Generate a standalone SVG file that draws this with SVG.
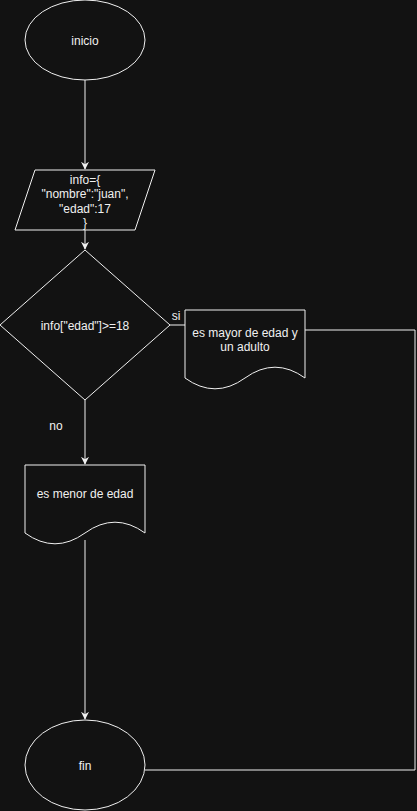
<svg xmlns="http://www.w3.org/2000/svg" width="417" height="811" viewBox="0 0 417 811">
<style>
.s{fill:#121212;stroke:#f0f0f0;stroke-width:1}
.e{fill:none;stroke:#f0f0f0;stroke-width:1}
text{font-family:"Liberation Sans",Arial,sans-serif;font-size:12px;fill:#f0f0f0;text-anchor:middle}
</style>
<defs>
<marker id="arr" viewBox="0 0 10 10" refX="9" refY="5" markerWidth="8" markerHeight="8" markerUnits="userSpaceOnUse" orient="auto">
<path d="M0,0 L10,5 L0,10 L3,5 Z" fill="#f0f0f0"/>
</marker>
</defs>
<rect width="417" height="811" fill="#121212"/>
<g id="connectors">
<line class="e" x1="85" y1="80" x2="85" y2="169" marker-end="url(#arr)"/>
<line class="e" x1="85" y1="230" x2="85" y2="249" marker-end="url(#arr)"/>
<line class="e" x1="170" y1="325" x2="185" y2="325"/>
<text x="176" y="320">si</text>
<line class="e" x1="85" y1="400" x2="85" y2="464" marker-end="url(#arr)"/>
<text x="56" y="430">no</text>
<line class="e" x1="85" y1="540" x2="85" y2="719" marker-end="url(#arr)"/>
<polyline class="e" points="305,330 415,330 415,770 145,770"/>
</g>
<g id="inicio">
<ellipse class="s" cx="85" cy="40" rx="60" ry="40"/>
<text x="85" y="45">inicio</text>
</g>
<g id="info">
<polygon class="s" points="35,170 155,170 135,230 15,230"/>
<text x="85" y="184">info={</text>
<text x="85" y="198">"nombre":"juan",</text>
<text x="85" y="213">"edad":17</text>
<text x="85" y="227">}</text>
</g>
<g id="decision">
<polygon class="s" points="85,250 170,325 85,400 0,325"/>
<text x="85" y="330">info["edad"]&gt;=18</text>
</g>
<g id="mayor">
<path class="s" d="M185,310 L305,310 L305,378 Q275,356.4 245,378 Q215,399.6 185,378 Z"/>
<text x="245" y="337">es mayor de edad y</text>
<text x="245" y="351">un adulto</text>
</g>
<g id="menor">
<path class="s" d="M25,465 L145,465 L145,533 Q115,511.4 85,533 Q55,554.6 25,533 Z"/>
<text x="85" y="498">es menor de edad</text>
</g>
<g id="fin">
<ellipse class="s" cx="85" cy="765" rx="60" ry="45"/>
<text x="85" y="770">fin</text>
</g>
</svg>
